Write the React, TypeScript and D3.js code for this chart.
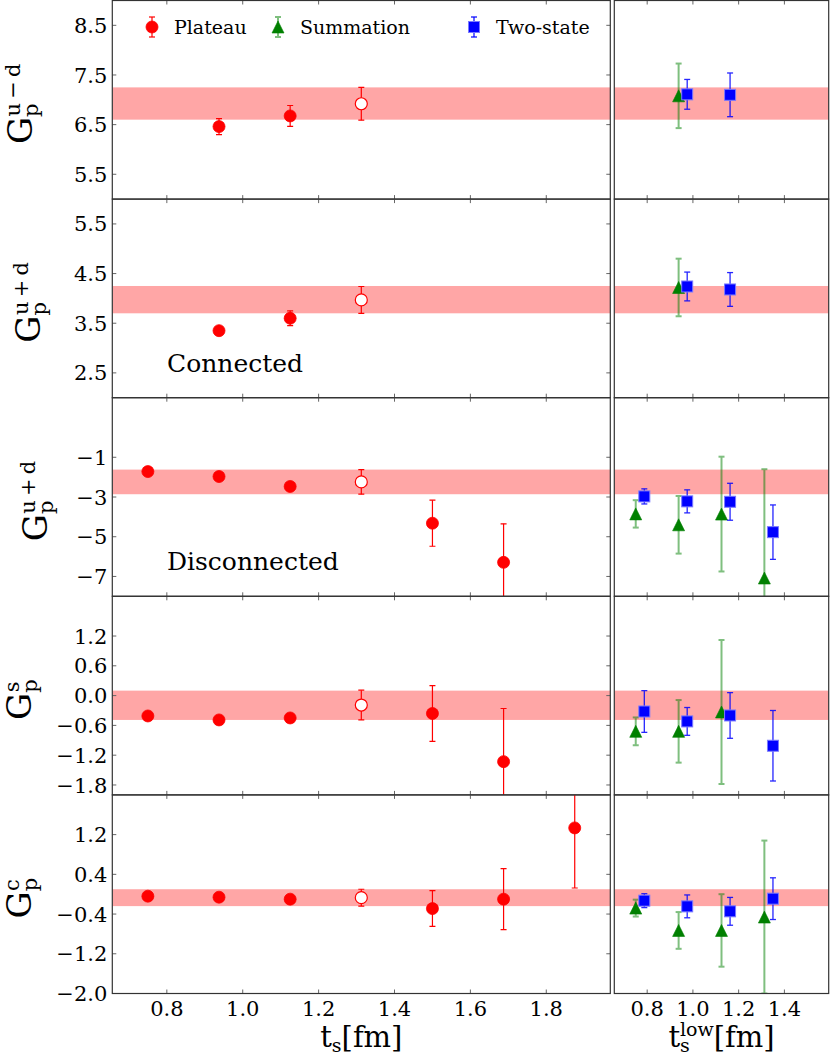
import { useRef, useEffect } from 'react';
import * as d3 from 'd3';

type Pt = [number, number, number]; // x, value, error

// ---- data ----
const xTicksLeft = [0.8, 1.0, 1.2, 1.4, 1.6, 1.8];
const xTicksRight = [0.8, 1.0, 1.2, 1.4];
const xDomainLeft: [number, number] = [0.65625, 1.96875];
const xDomainRight: [number, number] = [0.65625, 1.59375];

// G_p^{u-d}
const umdPlateau: Pt[] = [[0.9375, 6.46, 0.16], [1.125, 6.675, 0.21]];
const umdOpen: Pt[] = [[1.3125, 6.92, 0.33]];
const umdSummation: Pt[] = [[0.9375, 7.08, 0.65]];
const umdTwoState: Pt[] = [[0.975, 7.11, 0.3], [1.1625, 7.1, 0.44]];
const umdBand = [6.6, 7.25];
const umdTicks = [5.5, 6.5, 7.5, 8.5];

// G_p^{u+d} connected
const conPlateau: Pt[] = [[0.9375, 3.35, 0.03], [1.125, 3.6, 0.15]];
const conOpen: Pt[] = [[1.3125, 3.97, 0.27]];
const conSummation: Pt[] = [[0.9375, 4.22, 0.58]];
const conTwoState: Pt[] = [[0.975, 4.24, 0.29], [1.1625, 4.18, 0.34]];
const conBand = [3.7, 4.25];
const conTicks = [2.5, 3.5, 4.5, 5.5];

// G_p^{u+d} disconnected
const disPlateau: Pt[] = [
  [0.75, -1.72, 0.05], [0.9375, -1.97, 0.07], [1.125, -2.47, 0.08],
  [1.5, -4.32, 1.16], [1.6875, -6.29, 1.94],
];
const disOpen: Pt[] = [[1.3125, -2.24, 0.62]];
const disSummation: Pt[] = [[0.75, -3.85, 0.69], [0.9375, -4.4, 1.45], [1.125, -3.86, 2.89], [1.3125, -7.08, 5.48]];
const disTwoState: Pt[] = [[0.7875, -2.97, 0.38], [0.975, -3.22, 0.58], [1.1625, -3.24, 0.93], [1.35, -4.77, 1.37]];
const disBand = [-2.86, -1.62];
const disTicks = [-7, -5, -3, -1];

// G_p^s
const sPlateau: Pt[] = [
  [0.75, -0.41, 0.03], [0.9375, -0.49, 0.03], [1.125, -0.45, 0.06],
  [1.5, -0.36, 0.56], [1.6875, -1.33, 1.07],
];
const sOpen: Pt[] = [[1.3125, -0.19, 0.3]];
const sSummation: Pt[] = [[0.75, -0.72, 0.28], [0.9375, -0.72, 0.63], [1.125, -0.33, 1.45]];
const sTwoState: Pt[] = [[0.7875, -0.32, 0.42], [0.975, -0.52, 0.28], [1.1625, -0.4, 0.46], [1.35, -1.01, 0.71]];
const sBand = [-0.49, 0.1];
const sTicks = [-1.8, -1.2, -0.6, 0.0, 0.6, 1.2];

// G_p^c
const cPlateau: Pt[] = [
  [0.75, -0.04, 0.03], [0.9375, -0.06, 0.03], [1.125, -0.1, 0.03],
  [1.5, -0.29, 0.36], [1.6875, -0.1, 0.615], [1.875, 1.335, 1.21],
];
const cOpen: Pt[] = [[1.3125, -0.07, 0.17]];
const cSummation: Pt[] = [[0.75, -0.28, 0.17], [0.9375, -0.73, 0.37], [1.125, -0.73, 0.73], [1.3125, -0.46, 1.54]];
const cTwoState: Pt[] = [[0.7875, -0.13, 0.14], [0.975, -0.245, 0.23], [1.1625, -0.345, 0.28], [1.35, -0.09, 0.42]];
const cBand = [-0.24, 0.1];
const cTicks = [-2.0, -1.2, -0.4, 0.4, 1.2];

const legendLabels = ['Plateau', 'Summation', 'Two-state'];

const rows = [
  { sup: 'u\u2009\u2212\u2009d', domain: [5, 9], ticks: umdTicks, fmt: '.1f', band: umdBand, plateau: umdPlateau, open: umdOpen, summation: umdSummation, twoState: umdTwoState, note: '' },
  { sup: 'u\u2009+\u2009d', domain: [2, 6], ticks: conTicks, fmt: '.1f', band: conBand, plateau: conPlateau, open: conOpen, summation: conSummation, twoState: conTwoState, note: 'Connected' },
  { sup: 'u\u2009+\u2009d', domain: [-8, 2], ticks: disTicks, fmt: 'd', band: disBand, plateau: disPlateau, open: disOpen, summation: disSummation, twoState: disTwoState, note: 'Disconnected' },
  { sup: 's', domain: [-2, 2], ticks: sTicks, fmt: '.1f', band: sBand, plateau: sPlateau, open: sOpen, summation: sSummation, twoState: sTwoState, note: '' },
  { sup: 'c', domain: [-2, 2], ticks: cTicks, fmt: '.1f', band: cBand, plateau: cPlateau, open: cOpen, summation: cSummation, twoState: cTwoState, note: '' },
];

// ---- layout ----
const W = 830;
const H = 1058;
const LEFT = [112.3, 610.3];
const RIGHT = [614.3, 828.7];
const TOP = 0.5;
const ROW_H = 198.6;
const LABEL_X = [32, 40, 47, 31, 31];
const FONT = "'DejaVu Serif', serif";
const RED = '#ff0000';
const GREEN = '#008000';
const BLUE = '#0000ff';
const BAND = '#ffa6a6';
const CAP = 3;
const MS = 12;

type Sel = d3.Selection<SVGGElement, unknown, null, undefined>;

function errorBars(g: Sel, data: Pt[], x: (v: number) => number, y: (v: number) => number, color: string, width: number, opacity: number) {
  const eb = g.append('g').attr('stroke', color).attr('stroke-width', width).attr('opacity', opacity);
  data.forEach(([px, py, e]) => {
    const cx = x(px);
    eb.append('line').attr('x1', cx).attr('x2', cx).attr('y1', y(py - e)).attr('y2', y(py + e));
    [py - e, py + e].forEach((v) => {
      eb.append('line').attr('x1', cx - CAP).attr('x2', cx + CAP).attr('y1', y(v)).attr('y2', y(v));
    });
  });
}

function circle(g: Sel, cx: number, cy: number, open: boolean) {
  g.append('circle').attr('cx', cx).attr('cy', cy).attr('r', MS / 2)
    .attr('fill', open ? '#fff' : RED).attr('stroke', RED).attr('stroke-width', open ? 1.2 : 0.8);
}

function triangle(g: Sel, cx: number, cy: number) {
  const h = MS / 2;
  g.append('path').attr('d', `M${cx},${cy - h}L${cx - h},${cy + h}L${cx + h},${cy + h}Z`)
    .attr('fill', GREEN).attr('stroke', GREEN).attr('stroke-width', 0.6);
}

function square(g: Sel, cx: number, cy: number) {
  const h = MS / 2 - 0.5;
  g.append('rect').attr('x', cx - h).attr('y', cy - h).attr('width', 2 * h).attr('height', 2 * h)
    .attr('fill', BLUE).attr('stroke', '#7a7aff').attr('stroke-width', 1);
}

export default function App() {
  const svgRef = useRef<SVGSVGElement>(null);

  useEffect(() => {
    if (!svgRef.current) return;
    const svg = d3.select(svgRef.current);
    svg.selectAll('*').remove();
    const defs = svg.append('defs');
    const root = svg.append('g').attr('font-family', FONT);

    rows.forEach((row, i) => {
      const top = TOP + i * ROW_H;
      const bottom = top + ROW_H;
      const y = d3.scaleLinear().domain(row.domain).range([bottom, top]);
      const isLast = i === rows.length - 1;

      const panels = [
        { range: LEFT, domain: xDomainLeft, ticks: xTicksLeft, left: true },
        { range: RIGHT, domain: xDomainRight, ticks: xTicksRight, left: false },
      ];

      panels.forEach((p, j) => {
        const x = d3.scaleLinear().domain(p.domain).range(p.range);
        const id = `clip-${i}-${j}`;
        defs.append('clipPath').attr('id', id).append('rect')
          .attr('x', p.range[0]).attr('y', top).attr('width', p.range[1] - p.range[0]).attr('height', ROW_H);

        const g = root.append('g').attr('clip-path', `url(#${id})`);

        // band
        g.append('rect').attr('x', p.range[0]).attr('width', p.range[1] - p.range[0])
          .attr('y', y(row.band[1])).attr('height', y(row.band[0]) - y(row.band[1]))
          .attr('fill', BAND);

        if (p.left) {
          errorBars(g, [...row.plateau, ...row.open], x, y, RED, 1.2, 1);
          row.plateau.forEach(([px, py]) => circle(g, x(px), y(py), false));
          row.open.forEach(([px, py]) => circle(g, x(px), y(py), true));
        } else {
          errorBars(g, row.summation, x, y, GREEN, 2, 0.5);
          row.summation.forEach(([px, py]) => triangle(g, x(px), y(py)));
          errorBars(g, row.twoState, x, y, BLUE, 1.3, 0.85);
          row.twoState.forEach(([px, py]) => square(g, x(px), y(py)));
        }

        // ticks
        const tg = root.append('g').attr('stroke', '#666').attr('stroke-width', 1);
        p.ticks.forEach((t) => {
          const tx = x(t);
          tg.append('line').attr('x1', tx).attr('x2', tx).attr('y1', bottom).attr('y2', bottom - 4);
          tg.append('line').attr('x1', tx).attr('x2', tx).attr('y1', top).attr('y2', top + 4);
        });
        if (p.left) {
          row.ticks.forEach((t) => {
            const ty = y(t);
            tg.append('line').attr('x1', p.range[0]).attr('x2', p.range[0] + 4).attr('y1', ty).attr('y2', ty);
            tg.append('line').attr('x1', p.range[1]).attr('x2', p.range[1] - 4).attr('y1', ty).attr('y2', ty);
          });
        }

        // frame
        root.append('rect').attr('x', p.range[0]).attr('y', top)
          .attr('width', p.range[1] - p.range[0]).attr('height', ROW_H)
          .attr('fill', 'none').attr('stroke', '#333').attr('stroke-width', 1.2);

        // x tick labels on the last row
        if (isLast) {
          const f = d3.format('.1f');
          p.ticks.forEach((t) => {
            root.append('text').attr('x', x(t)).attr('y', bottom + 22)
              .attr('text-anchor', 'middle').attr('font-size', 21).text(f(t));
          });
        }
      });

      // y tick labels
      const fy = d3.format(row.fmt);
      row.ticks.forEach((t) => {
        root.append('text').attr('x', LEFT[0] - 5).attr('y', y(t))
          .attr('dy', '0.36em').attr('text-anchor', 'end').attr('font-size', 21).text(fy(t));
      });

      // y label: G_p^{...}
      const cy = (top + bottom) / 2 + 4;
      const lab = root.append('text')
        .attr('transform', `translate(${LABEL_X[i]},${cy}) rotate(-90)`)
        .attr('text-anchor', 'middle').attr('font-size', 34);
      lab.append('tspan').text('G');
      lab.append('tspan').attr('font-size', 21).attr('dy', 6).text('p');
      lab.append('tspan').attr('font-size', 21).attr('dx', -13).attr('dy', -18).text(row.sup);

      if (row.note) {
        root.append('text').attr('x', 167).attr('y', bottom - 26)
          .attr('font-size', 25).text(row.note);
      }
    });

    // legend
    const lg = root.append('g');
    const ly = 27;
    const lxs = [152, 278, 474];
    const colors = [RED, GREEN, BLUE];
    lxs.forEach((lx, k) => {
      const g = lg.append('g') as unknown as Sel;
      const ident = (v: number) => v;
      errorBars(g, [[lx, ly, 10]], ident, ident, colors[k], k === 1 ? 2 : 1.2, k === 1 ? 0.5 : 1);
      if (k === 0) circle(g, lx, ly, false);
      if (k === 1) triangle(g, lx, ly);
      if (k === 2) square(g, lx, ly);
      lg.append('text').attr('x', lx + 22).attr('y', ly).attr('dy', '0.36em')
        .attr('font-size', 19).text(legendLabels[k]);
    });

    // x labels
    const bottomY = TOP + rows.length * ROW_H;
    const baseY = bottomY + 53;
    const xl = root.append('text').attr('x', (LEFT[0] + LEFT[1]) / 2).attr('y', baseY)
      .attr('text-anchor', 'middle').attr('font-size', 29);
    xl.append('tspan').text('t');
    xl.append('tspan').attr('font-size', 19).attr('dy', 5).text('s');
    xl.append('tspan').attr('dy', -5).text('[fm]');

    const xr = root.append('text').attr('x', (RIGHT[0] + RIGHT[1]) / 2).attr('y', baseY)
      .attr('text-anchor', 'middle').attr('font-size', 29);
    xr.append('tspan').text('t');
    xr.append('tspan').attr('font-size', 19).attr('dy', 5).text('s');
    xr.append('tspan').attr('font-size', 19).attr('dx', -10).attr('dy', -16).text('low');
    xr.append('tspan').attr('dy', 11).text('[fm]');
  }, []);

  return (
    <svg
      ref={svgRef}
      width={W}
      height={H}
      viewBox={`0 0 ${W} ${H}`}
      style={{ position: 'absolute', left: 0, top: 0, background: '#fff' }}
      role="img"
      aria-label="Form factor G_p results: plateau, summation and two-state fits"
    />
  );
}
